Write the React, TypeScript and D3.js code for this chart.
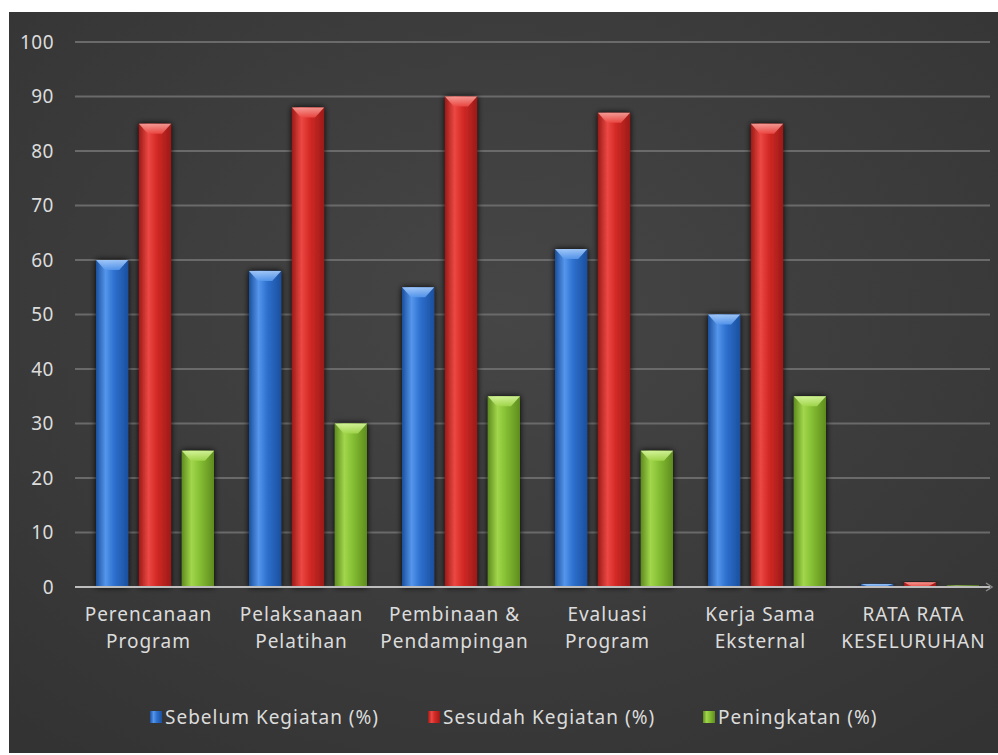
import * as d3 from 'd3';
import { useEffect, useRef } from 'react';

const categories = [
    ['Perencanaan', 'Program'],
    ['Pelaksanaan', 'Pelatihan'],
    ['Pembinaan &', 'Pendampingan'],
    ['Evaluasi', 'Program'],
    ['Kerja Sama', 'Eksternal'],
    ['RATA RATA', 'KESELURUHAN'],
];
const seriesNames = ['Sebelum Kegiatan (%)', 'Sesudah Kegiatan (%)', 'Peningkatan (%)'];
const sebelum = [60, 58, 55, 62, 50, 0.57];
const sesudah = [85, 88, 90, 87, 85, 0.87];
const peningkatan = [25, 30, 35, 25, 35, 0.3];
const yTicks = [0, 10, 20, 30, 40, 50, 60, 70, 80, 90, 100];

// base, light, dark for each series
const COLORS = [
    { base: '#2f72d0', light: '#5596ec', dark: '#1a4f9e', top: '#a9cdfa' },
    { base: '#d42a26', light: '#ec4843', dark: '#9c1b18', top: '#f7a39d' },
    { base: '#86c034', light: '#a2d64c', dark: '#5e8c1e', top: '#d8f7a0' },
];

const FONT = '"Noto Sans", "Open Sans", sans-serif';
const TEXT = '#dcdcdc';

const App = () => {
    const ref = useRef<any>();

    function draw(): void {
        const W = 998;
        const H = 755;
        const svg = d3.select<any, any>(ref.current);
        svg.selectAll('*').remove();

        const defs = svg.append('defs');
        const bg = defs.append('radialGradient').attr('id', 'bg')
            .attr('cx', '50%').attr('cy', '40%').attr('r', '75%');
        bg.append('stop').attr('offset', '0%').attr('stop-color', '#464646');
        bg.append('stop').attr('offset', '100%').attr('stop-color', '#333333');

        COLORS.forEach((c, i) => {
            const g = defs.append('linearGradient').attr('id', `bar${i}`)
                .attr('x1', '0%').attr('x2', '100%').attr('y1', '0%').attr('y2', '0%');
            g.append('stop').attr('offset', '0%').attr('stop-color', c.dark);
            g.append('stop').attr('offset', '30%').attr('stop-color', c.light);
            g.append('stop').attr('offset', '55%').attr('stop-color', c.base);
            g.append('stop').attr('offset', '100%').attr('stop-color', c.dark);
            const t = defs.append('linearGradient').attr('id', `top${i}`)
                .attr('x1', '0%').attr('x2', '0%').attr('y1', '0%').attr('y2', '100%');
            t.append('stop').attr('offset', '0%').attr('stop-color', c.top);
            t.append('stop').attr('offset', '100%').attr('stop-color', c.light);
        });

        const shadow = defs.append('filter').attr('id', 'shadow')
            .attr('x', '-30%').attr('y', '-10%').attr('width', '160%').attr('height', '120%');
        shadow.append('feGaussianBlur').attr('in', 'SourceAlpha').attr('stdDeviation', 3).attr('result', 'b');
        shadow.append('feOffset').attr('in', 'b').attr('dx', 0).attr('dy', 0).attr('result', 'o');
        const fm = shadow.append('feMerge');
        fm.append('feMergeNode').attr('in', 'o');
        fm.append('feMergeNode').attr('in', 'SourceGraphic');

        svg.append('rect').attr('width', W).attr('height', H).attr('fill', '#ffffff');
        svg.append('rect').attr('x', 9).attr('y', 12).attr('width', W - 9).attr('height', H - 14)
            .attr('fill', 'url(#bg)');

        const plotLeft = 72;
        const plotRight = 990;
        const y = d3.scaleLinear().domain([0, 100]).range([587, 42]);
        const x0 = d3.scaleBand<number>().domain(d3.range(categories.length)).range([plotLeft, plotRight]);
        const x1 = d3.scaleBand<number>().domain([0, 1, 2]).range([24, 142]).paddingInner(0.25);

        // gridlines
        svg.append('g').selectAll('line').data(yTicks.filter((t) => t > 0)).join('line')
            .attr('x1', 75).attr('x2', plotRight)
            .attr('y1', (d) => y(d)).attr('y2', (d) => y(d))
            .attr('stroke', '#6a6a6a').attr('stroke-width', 2);

        // y tick labels
        svg.append('g').selectAll('text').data(yTicks).join('text')
            .attr('x', 54).attr('y', (d) => y(d)).attr('dy', '0.35em')
            .attr('text-anchor', 'end')
            .attr('font-family', FONT).attr('font-size', 19).attr('letter-spacing', 0.5).attr('fill', TEXT)
            .text((d) => d);

        const allSeries = [sebelum, sesudah, peningkatan];
        const bars = svg.append('g');
        categories.forEach((_, ci) => {
            allSeries.forEach((vals, si) => {
                const v = vals[ci];
                const bx = x0(ci)! + x1(si)!;
                const bw = x1.bandwidth();
                const top = y(v);
                const h = y(0) - top;
                const g = bars.append('g');
                g.append('rect').attr('x', bx).attr('y', top).attr('width', bw).attr('height', h)
                    .attr('fill', `url(#bar${si})`).attr('filter', 'url(#shadow)');
                const bev = Math.min(10, h);
                if (h > 3) {
                    g.append('path')
                        .attr('d', `M${bx},${top} L${bx + bw},${top} L${bx + bw * 0.72},${top + bev} L${bx + bw * 0.28},${top + bev} Z`)
                        .attr('fill', `url(#top${si})`).attr('opacity', 0.9);
                }
            });
        });

        // axis line
        svg.append('line').attr('x1', 75).attr('x2', plotRight).attr('y1', y(0)).attr('y2', y(0))
            .attr('stroke', '#bdbdbd').attr('stroke-width', 2);
        svg.append('path')
            .attr('d', `M${plotRight - 4},${y(0) - 4} L${plotRight + 2},${y(0)} L${plotRight - 4},${y(0) + 4}`)
            .attr('fill', 'none').attr('stroke', '#8a8a8a').attr('stroke-width', 1.5);

        // category labels
        const cl = svg.append('g').selectAll('text').data(categories).join('text')
            .attr('x', (_, i) => x0(i)! + x0.bandwidth() / 2)
            .attr('y', 614)
            .attr('text-anchor', 'middle')
            .attr('font-family', FONT).attr('font-size', 19).attr('letter-spacing', 1).attr('fill', TEXT);
        cl.selectAll('tspan').data((d) => d).join('tspan')
            .attr('x', function () { return (this as any).parentNode.getAttribute('x'); })
            .attr('dy', (_, i) => (i === 0 ? '0.35em' : '1.45em'))
            .text((d) => d);

        // legend
        const legendX = [150, 428, 703];
        const lg = svg.append('g').selectAll('g').data(seriesNames).join('g')
            .attr('transform', (_, i) => `translate(${legendX[i]}, 717)`);
        lg.append('rect').attr('x', 0).attr('y', -6).attr('width', 12).attr('height', 12)
            .attr('fill', (_, i) => `url(#bar${i})`);
        lg.append('text').attr('x', 15).attr('dy', '0.35em')
            .attr('font-family', FONT).attr('font-size', 19).attr('letter-spacing', 1).attr('fill', TEXT)
            .text((d) => d);
    }

    useEffect(() => {
        draw();
    });

    return (
        <div style={{ position: 'absolute', left: 0, top: 0 }}>
            <svg ref={ref} width={998} height={755} style={{ display: 'block' }}></svg>
        </div>
    );
};

export default App;
